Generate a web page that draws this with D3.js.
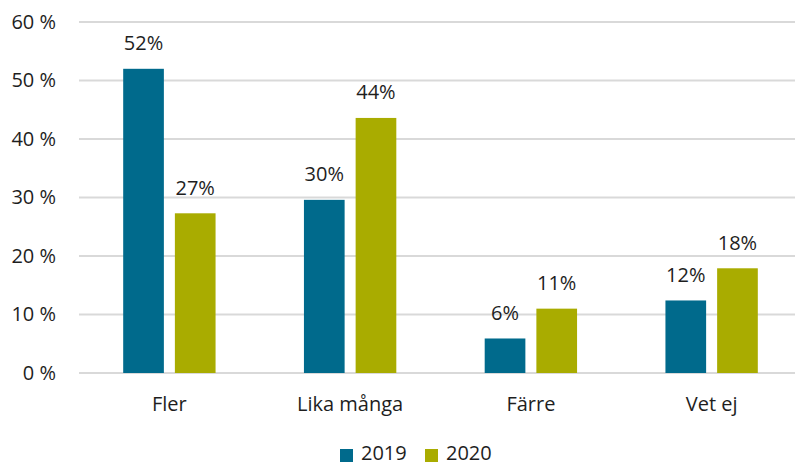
<!DOCTYPE html>
<html>
<head>
<meta charset="utf-8">
<script src="https://cdn.jsdelivr.net/npm/d3@7"></script>
<style>
  body { margin: 0; background: #fff; }
  svg { display: block; font-family: "Open Sans", Lato, sans-serif; }
  .grid line { stroke: #d9d9d9; stroke-width: 2; }
  text { fill: #1e1e1e; }
</style>
</head>
<body>
<div id="chart"></div>
<script>
// Svar per kategori, andel i procent
var categories = ["Fler", "Lika många", "Färre", "Vet ej"];
var years = ["2019", "2020"];
var values2019 = [52.0, 29.6, 5.9, 12.4];
var values2020 = [27.3, 43.6, 11.0, 17.9];
var yTicks = [0, 10, 20, 30, 40, 50, 60];
var colors = ["#006a8c", "#a9ac00"];

var width = 795;
var height = 466;
var margin = {left: 79, right: -7, top: 22, bottom: 93};
var fontFamily = "'Open Sans', Lato, sans-serif";

var svg = d3.select("#chart")
            .append("svg")
            .attr("width", width)
            .attr("height", height);

var xScale = d3.scaleBand()
               .domain(categories)
               .range([margin.left, width - margin.right]);

var inner = d3.scaleBand()
              .domain(years)
              .range([0, xScale.bandwidth()])
              .paddingInner(0.213)
              .paddingOuter(0.855);

var yScale = d3.scaleLinear()
               .domain([0, 60])
               .range([height - margin.bottom, margin.top]);

// gridlines
svg.append("g")
   .attr("class", "grid")
   .selectAll("line")
   .data(yTicks)
   .enter()
   .append("line")
   .attr("x1", margin.left)
   .attr("x2", width - margin.right)
   .attr("y1", function(d){ return yScale(d); })
   .attr("y2", function(d){ return yScale(d); });

// y axis labels
var yAxis = d3.axisLeft(yScale)
              .tickValues(yTicks)
              .tickSize(0)
              .tickPadding(23)
              .tickFormat(function(d){ return d + " %"; });

svg.append("g")
   .attr("transform", "translate(" + margin.left + ",0)")
   .call(yAxis)
   .call(function(g){ g.select(".domain").remove(); })
   .selectAll("text")
   .attr("font-size", "20px")
   .attr("font-family", fontFamily)
   .attr("fill", "#1e1e1e");

// x axis labels
var xAxis = d3.axisBottom(xScale).tickSize(0).tickPadding(24);
svg.append("g")
   .attr("transform", "translate(0," + yScale(0) + ")")
   .call(xAxis)
   .call(function(g){ g.select(".domain").remove(); })
   .selectAll("text")
   .attr("font-size", "20px")
   .attr("font-family", fontFamily)
   .attr("fill", "#1e1e1e");

var series = [values2019, values2020];

for (var s = 0; s < series.length; s++) {
  var data = categories.map(function(c, i){ return {cat: c, value: series[s][i]}; });
  var g = svg.append("g");
  g.selectAll("rect")
   .data(data)
   .enter()
   .append("rect")
   .attr("x", function(d){ return xScale(d.cat) + inner(years[s]); })
   .attr("width", inner.bandwidth())
   .attr("y", function(d){ return yScale(d.value); })
   .attr("height", function(d){ return yScale(0) - yScale(d.value); })
   .attr("fill", colors[s]);
  g.selectAll("text")
   .data(data)
   .enter()
   .append("text")
   .attr("x", function(d){ return xScale(d.cat) + inner(years[s]) + inner.bandwidth() / 2; })
   .attr("y", function(d){ return yScale(d.value) - 18.5; })
   .attr("text-anchor", "middle")
   .attr("font-size", "20px")
   .text(function(d){ return Math.round(d.value) + "%"; });
}

// legend
var legendX = [340, 425];
var legend = svg.selectAll(".legend")
                .data(years)
                .enter()
                .append("g")
                .attr("class", "legend")
                .attr("transform", function(d, i){ return "translate(" + legendX[i] + ",447)"; });
legend.append("rect")
      .attr("y", 2)
      .attr("width", 13)
      .attr("height", 13)
      .attr("fill", function(d, i){ return colors[i]; });
legend.append("text")
      .attr("x", 21)
      .attr("y", 13)
      .attr("font-size", "20px")
      .text(function(d){ return d; });
</script>
</body>
</html>
